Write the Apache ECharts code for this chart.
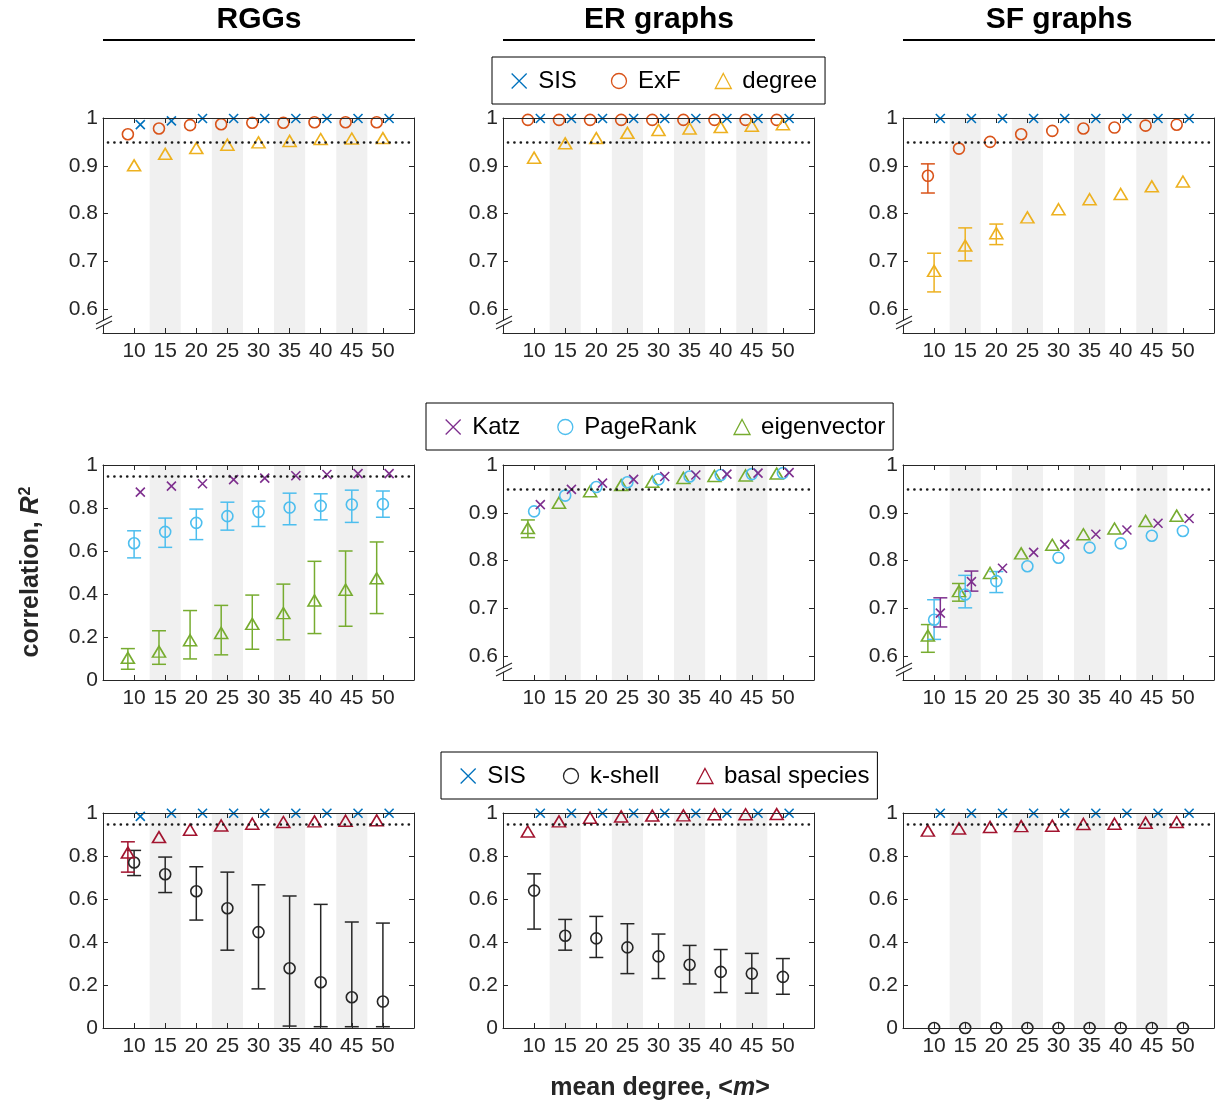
<!DOCTYPE html>
<html>
<head>
<meta charset="utf-8">
<title>Correlation of centrality measures with mean degree</title>
<script src="https://cdn.jsdelivr.net/npm/echarts@6/dist/echarts.min.js"></script>
<style>
  html, body { margin: 0; padding: 0; background: #fff; }
  #chart { width: 1220px; height: 1105px; }
</style>
</head>
<body>
<div id="chart"></div>
<script>
// ---------- data ----------
const meanDegree = [10, 15, 20, 25, 30, 35, 40, 45, 50];
const yTicksUpper = [0.6, 0.7, 0.8, 0.9, 1];
const yTicksFull = [0, 0.2, 0.4, 0.6, 0.8, 1];
const columnTitles = ['RGGs', 'ER graphs', 'SF graphs'];
const threshold = 0.95;

// row 1: SIS / ExF / degree
const rggSIS = [0.986, 0.994, 0.999, 0.999, 0.999, 0.999, 0.999, 0.999, 0.999];
const rggExF = [0.966, 0.978, 0.985, 0.987, 0.990, 0.990, 0.991, 0.991, 0.991];
const rggDegree = [0.901, 0.925, 0.937, 0.944, 0.949, 0.952, 0.956, 0.957, 0.958];
const erSIS = [0.999, 0.999, 0.999, 0.999, 0.999, 0.999, 0.999, 0.999, 0.999];
const erExF = [0.996, 0.996, 0.996, 0.996, 0.996, 0.996, 0.996, 0.996, 0.996];
const erDegree = [0.917, 0.947, 0.958, 0.969, 0.975, 0.978, 0.981, 0.984, 0.987];
const sfSIS = [0.999, 0.999, 0.999, 0.999, 0.999, 0.999, 0.999, 0.999, 0.999];
const sfExF = [0.879, 0.936, 0.950, 0.966, 0.973, 0.978, 0.980, 0.984, 0.986];
const sfExFErr = [[0.843, 0.904], null, null, null, null, null, null, null, null];
const sfDegree = [0.680, 0.733, 0.759, 0.792, 0.809, 0.830, 0.841, 0.857, 0.867];
const sfDegreeErr = [[0.636, 0.717], [0.701, 0.770], [0.735, 0.778], null, null, null, null, null, null];

// row 2: Katz / PageRank / eigenvector
const rggKatz = [0.874, 0.902, 0.913, 0.932, 0.939, 0.950, 0.956, 0.960, 0.960];
const rggPageRank = [0.636, 0.689, 0.731, 0.762, 0.782, 0.802, 0.810, 0.816, 0.818];
const rggPageRankErr = [[0.568, 0.694], [0.617, 0.753], [0.653, 0.795], [0.697, 0.827], [0.714, 0.832],
                        [0.722, 0.869], [0.745, 0.866], [0.733, 0.883], [0.757, 0.879]];
const rggEigen = [0.103, 0.132, 0.185, 0.219, 0.261, 0.311, 0.370, 0.420, 0.473];
const rggEigenErr = [[0.050, 0.146], [0.073, 0.229], [0.098, 0.323], [0.117, 0.347], [0.143, 0.395],
                     [0.187, 0.446], [0.216, 0.552], [0.250, 0.600], [0.309, 0.642]];
const erKatz = [0.917, 0.949, 0.962, 0.970, 0.976, 0.979, 0.981, 0.983, 0.984];
const erPageRank = [0.903, 0.936, 0.954, 0.964, 0.970, 0.976, 0.979, 0.981, 0.983];
const erEigen = [0.868, 0.921, 0.945, 0.958, 0.965, 0.973, 0.977, 0.978, 0.982];
const erEigenErr = [[0.848, 0.885], null, null, null, null, null, null, null, null];
const sfKatz = [0.690, 0.756, 0.784, 0.817, 0.834, 0.855, 0.864, 0.878, 0.888];
const sfKatzErr = [[0.661, 0.722], [0.736, 0.778], null, null, null, null, null, null, null];
const sfPageRank = [0.676, 0.729, 0.757, 0.788, 0.806, 0.827, 0.836, 0.852, 0.862];
const sfPageRankErr = [[0.635, 0.718], [0.701, 0.769], [0.733, 0.777], null, null, null, null, null, null];
const sfEigen = [0.643, 0.736, 0.774, 0.815, 0.833, 0.855, 0.867, 0.883, 0.894];
const sfEigenErr = [[0.608, 0.666], [0.715, 0.752], null, null, null, null, null, null, null];

// row 3: SIS / k-shell / basal species
const rggSIS3 = [0.984, 0.999, 0.999, 0.999, 0.999, 0.999, 0.999, 0.999, 0.999];
const rggKshell = [0.770, 0.715, 0.636, 0.557, 0.446, 0.278, 0.213, 0.143, 0.123];
const rggKshellErr = [[0.709, 0.826], [0.630, 0.795], [0.502, 0.750], [0.362, 0.725], [0.182, 0.666],
                      [0.009, 0.614], [0.006, 0.575], [0.006, 0.493], [0.006, 0.488]];
const rggBasal = [0.816, 0.888, 0.922, 0.942, 0.950, 0.958, 0.961, 0.964, 0.966];
const rggBasalErr = [[0.725, 0.866], null, null, null, null, null, null, null, null];
const erSIS3 = [0.999, 0.999, 0.999, 0.999, 0.999, 0.999, 0.999, 0.999, 0.999];
const erKshell = [0.639, 0.429, 0.417, 0.375, 0.333, 0.294, 0.261, 0.253, 0.238];
const erKshellErr = [[0.460, 0.717], [0.362, 0.505], [0.328, 0.519], [0.253, 0.485], [0.230, 0.437],
                     [0.205, 0.384], [0.165, 0.365], [0.162, 0.347], [0.157, 0.323]];
const erBasal = [0.914, 0.961, 0.978, 0.984, 0.988, 0.989, 0.994, 0.994, 0.995];
const sfSIS3 = [0.999, 0.999, 0.999, 0.999, 0.999, 0.999, 0.999, 0.999, 0.999];
const sfKshell = [0, 0, 0, 0, 0, 0, 0, 0, 0];
const sfBasal = [0.918, 0.928, 0.935, 0.939, 0.941, 0.949, 0.950, 0.955, 0.958];

// ---------- styling ----------
const FONT = '"Liberation Sans", Arial, Helvetica, sans-serif';
const INK = '#262626';
const COLORS = {
  'SIS': '#0072BD', 'ExF': '#D95319', 'degree': '#EDB120',
  'Katz': '#7E2F8E', 'PageRank': '#4DBEEE', 'eigenvector': '#77AC30',
  'k-shell': '#262626', 'basal species': '#A2142F'
};
const CROSS = 'path://M0,0L10,10M10,0L0,10';
const SYMBOLS = {
  cross: { symbol: CROSS, size: 9 },
  circle: { symbol: 'circle', size: 11 },
  triangle: { symbol: 'triangle', size: [13, 11] }
};

const gridLeft = [103, 503, 903];
const gridTop = [118, 465, 813];
const gridW = 311;
const gridH = 215;

// each panel: [row, col, lower y limit, [name, values, errors, x shift, marker]]
const panels = [
  [0, 0, 0.55, [['ExF', rggExF, null, -1, 'circle'], ['degree', rggDegree, null, 0, 'triangle'], ['SIS', rggSIS, null, 1, 'cross']]],
  [0, 1, 0.55, [['ExF', erExF, null, -1, 'circle'], ['degree', erDegree, null, 0, 'triangle'], ['SIS', erSIS, null, 1, 'cross']]],
  [0, 2, 0.55, [['ExF', sfExF, sfExFErr, -1, 'circle'], ['degree', sfDegree, sfDegreeErr, 0, 'triangle'], ['SIS', sfSIS, null, 1, 'cross']]],
  [1, 0, 0, [['eigenvector', rggEigen, rggEigenErr, -1, 'triangle'], ['PageRank', rggPageRank, rggPageRankErr, 0, 'circle'], ['Katz', rggKatz, null, 1, 'cross']]],
  [1, 1, 0.55, [['eigenvector', erEigen, erEigenErr, -1, 'triangle'], ['PageRank', erPageRank, null, 0, 'circle'], ['Katz', erKatz, null, 1, 'cross']]],
  [1, 2, 0.55, [['eigenvector', sfEigen, sfEigenErr, -1, 'triangle'], ['PageRank', sfPageRank, sfPageRankErr, 0, 'circle'], ['Katz', sfKatz, sfKatzErr, 1, 'cross']]],
  [2, 0, 0, [['k-shell', rggKshell, rggKshellErr, 0, 'circle'], ['basal species', rggBasal, rggBasalErr, -1, 'triangle'], ['SIS', rggSIS3, null, 1, 'cross']]],
  [2, 1, 0, [['k-shell', erKshell, erKshellErr, 0, 'circle'], ['basal species', erBasal, null, -1, 'triangle'], ['SIS', erSIS3, null, 1, 'cross']]],
  [2, 2, 0, [['k-shell', sfKshell, null, 0, 'circle'], ['basal species', sfBasal, null, -1, 'triangle'], ['SIS', sfSIS3, null, 1, 'cross']]]
];

function tickText(v) {
  if (v === 0 || v === 1) return String(v);
  return v.toFixed(1);
}

function renderErrorBar(params, api) {
  const x = api.value(0);
  const lo = api.coord([x, api.value(1)]);
  const hi = api.coord([x, api.value(2)]);
  const half = 7;
  const style = { stroke: api.visual('color'), lineWidth: 1.5, fill: null };
  return {
    type: 'group',
    children: [
      { type: 'line', shape: { x1: lo[0], y1: lo[1], x2: hi[0], y2: hi[1] }, style },
      { type: 'line', shape: { x1: lo[0] - half, y1: lo[1], x2: lo[0] + half, y2: lo[1] }, style },
      { type: 'line', shape: { x1: hi[0] - half, y1: hi[1], x2: hi[0] + half, y2: hi[1] }, style }
    ]
  };
}

const grid = [], xAxis = [], yAxis = [], series = [], graphic = [];

// alternating shaded columns behind every other mean degree
const bands = meanDegree
  .filter((d, i) => i % 2 === 1)
  .map(d => [{ xAxis: d - 2.5 }, { xAxis: d + 2.5 }]);

panels.forEach((p, i) => {
  const [row, col, ymin, items] = p;
  grid.push({ left: gridLeft[col], top: gridTop[row], width: gridW, height: gridH, containLabel: false });

  const axisLine = { show: true, onZero: false, lineStyle: { color: INK, width: 1 } };
  const tickStyle = { show: true, inside: true, length: 5, lineStyle: { color: INK, width: 1 } };
  xAxis.push({
    type: 'value', gridIndex: i, position: 'bottom', min: 5, max: 55, z: 5,
    axisLine, splitLine: { show: false },
    axisTick: Object.assign({ customValues: meanDegree }, tickStyle),
    axisLabel: { customValues: meanDegree, margin: 8, fontSize: 21, color: INK, fontFamily: FONT }
  });
  const yt = ymin === 0 ? yTicksFull : yTicksUpper;
  yAxis.push({
    type: 'value', gridIndex: i, position: 'left', min: ymin, max: 1, z: 5,
    axisLine, splitLine: { show: false },
    axisTick: Object.assign({ customValues: yt }, tickStyle),
    axisLabel: { customValues: yt, formatter: tickText, margin: 5, fontSize: 21, color: INK, fontFamily: FONT }
  });

  // shaded bands + threshold line
  series.push({
    type: 'scatter', xAxisIndex: i, yAxisIndex: i, data: [], silent: true, z: 1,
    markArea: { silent: true, itemStyle: { color: '#F0F0F0' }, data: bands },
    markLine: {
      silent: true, symbol: 'none', label: { show: false },
      lineStyle: { color: '#1a1a1a', type: [0.1, 6.3], width: 2.6, cap: 'round' },
      data: [[{ coord: [5.8, threshold] }, { coord: [55, threshold] }]]
    }
  });

  items.forEach(([name, values, errs, shift, marker]) => {
    const color = COLORS[name];
    if (errs) {
      const errData = [];
      errs.forEach((e, k) => { if (e) errData.push([meanDegree[k] + shift, e[0], e[1]]); });
      series.push({
        type: 'custom', name: name + ' range', xAxisIndex: i, yAxisIndex: i, z: 3, silent: true,
        itemStyle: { color }, renderItem: renderErrorBar, encode: { x: 0, y: [1, 2] }, data: errData
      });
    }
    const s = SYMBOLS[marker];
    series.push({
      type: 'scatter', name, xAxisIndex: i, yAxisIndex: i, z: 4, silent: true, clip: false,
      symbol: s.symbol, symbolSize: s.size,
      itemStyle: { color: 'rgba(0,0,0,0)', borderColor: color, borderWidth: 1.6, opacity: 1 },
      data: values.map((v, k) => [meanDegree[k] + shift, v])
    });
  });

  // axis break marks on truncated axes
  if (ymin > 0) {
    const bx = gridLeft[col], by = gridTop[row] + gridH;
    graphic.push({ type: 'polygon', z: 50, shape: { points: [[bx - 6, by - 5], [bx + 8, by - 12], [bx + 8, by - 16], [bx - 6, by - 9]] }, style: { fill: '#fff' } });
    graphic.push({ type: 'line', z: 51, shape: { x1: bx - 7, y1: by - 4, x2: bx + 9, y2: by - 12 }, style: { stroke: INK, lineWidth: 1.2 } });
    graphic.push({ type: 'line', z: 51, shape: { x1: bx - 7, y1: by - 9, x2: bx + 9, y2: by - 17 }, style: { stroke: INK, lineWidth: 1.2 } });
  }
});

// box frame: top and right axes with inward ticks
panels.forEach((p, i) => {
  const [row, col, ymin] = p;
  const yt = ymin === 0 ? yTicksFull : yTicksUpper;
  const line = { show: true, onZero: false, lineStyle: { color: INK, width: 1 } };
  xAxis.push({
    type: 'value', gridIndex: i, position: 'top', min: 5, max: 55, z: 5,
    axisLine: line, splitLine: { show: false }, axisLabel: { show: false },
    axisTick: { show: true, inside: true, length: 5, customValues: meanDegree, lineStyle: { color: INK } }
  });
  yAxis.push({
    type: 'value', gridIndex: i, position: 'right', min: ymin, max: 1, z: 5,
    axisLine: line, splitLine: { show: false }, axisLabel: { show: false },
    axisTick: { show: true, inside: true, length: 5, customValues: yt, lineStyle: { color: INK } }
  });
});

// column headers with rules
columnTitles.forEach((t, c) => {
  graphic.push({
    type: 'text', x: gridLeft[c] + gridW / 2 + 0.5, y: 20,
    style: { text: t, align: 'center', verticalAlign: 'middle', fontSize: 30, fontWeight: 'bold', fill: '#000', fontFamily: FONT }
  });
  graphic.push({
    type: 'line', shape: { x1: gridLeft[c], y1: 40, x2: gridLeft[c] + gridW + 1, y2: 40 },
    style: { stroke: '#000', lineWidth: 2.2 }
  });
});

// axis titles
graphic.push({
  type: 'text', x: 31, y: 572, rotation: Math.PI / 2,
  style: {
    text: '{a|correlation, }{b|R}{c|2}', align: 'center', verticalAlign: 'middle',
    rich: {
      a: { fontSize: 25, fontWeight: 'bold', fill: INK, fontFamily: FONT },
      b: { fontSize: 25, fontWeight: 'bold', fontStyle: 'italic', fill: INK, fontFamily: FONT },
      c: { fontSize: 16, fontWeight: 'bold', fill: INK, fontFamily: FONT, verticalAlign: 'top', padding: [0, 0, 11, 1] }
    }
  }
});
graphic.push({
  type: 'text', x: 660, y: 1088,
  style: {
    text: '{a|mean degree, <}{b|m}{a|>}', align: 'center', verticalAlign: 'middle',
    rich: {
      a: { fontSize: 25, fontWeight: 'bold', fill: INK, fontFamily: FONT },
      b: { fontSize: 25, fontWeight: 'bold', fontStyle: 'italic', fill: INK, fontFamily: FONT }
    }
  }
});

// legends, one per row
function legendEntry(name, marker) {
  const color = COLORS[name];
  const icon = marker === 'cross' ? CROSS : marker;
  return { name, icon, itemStyle: { color: 'rgba(0,0,0,0)', borderColor: color, borderWidth: 1.3 } };
}
function legendBox(left, top, gap, entries) {
  return {
    left, top, orient: 'horizontal', selectedMode: false,
    backgroundColor: '#fff', borderColor: '#000', borderWidth: 1, borderRadius: 0,
    padding: [12, 8, 11, 19], itemWidth: 16, itemHeight: 15, itemGap: gap,
    textStyle: { fontSize: 24, color: '#000', fontFamily: FONT, padding: [0, 0, 0, 6] },
    data: entries
  };
}
const legend = [
  legendBox(492, 57, 34, [legendEntry('SIS', 'cross'), legendEntry('ExF', 'circle'), legendEntry('degree', 'triangle')]),
  legendBox(426, 403, 37, [legendEntry('Katz', 'cross'), legendEntry('PageRank', 'circle'), legendEntry('eigenvector', 'triangle')]),
  legendBox(441, 752, 37, [legendEntry('SIS', 'cross'), legendEntry('k-shell', 'circle'), legendEntry('basal species', 'triangle')])
];

const chart = echarts.init(document.getElementById('chart'), null, { renderer: 'canvas' });
chart.setOption({
  backgroundColor: '#fff',
  animation: false,
  textStyle: { fontFamily: FONT },
  legend, grid, xAxis, yAxis, series, graphic
});
</script>
</body>
</html>
